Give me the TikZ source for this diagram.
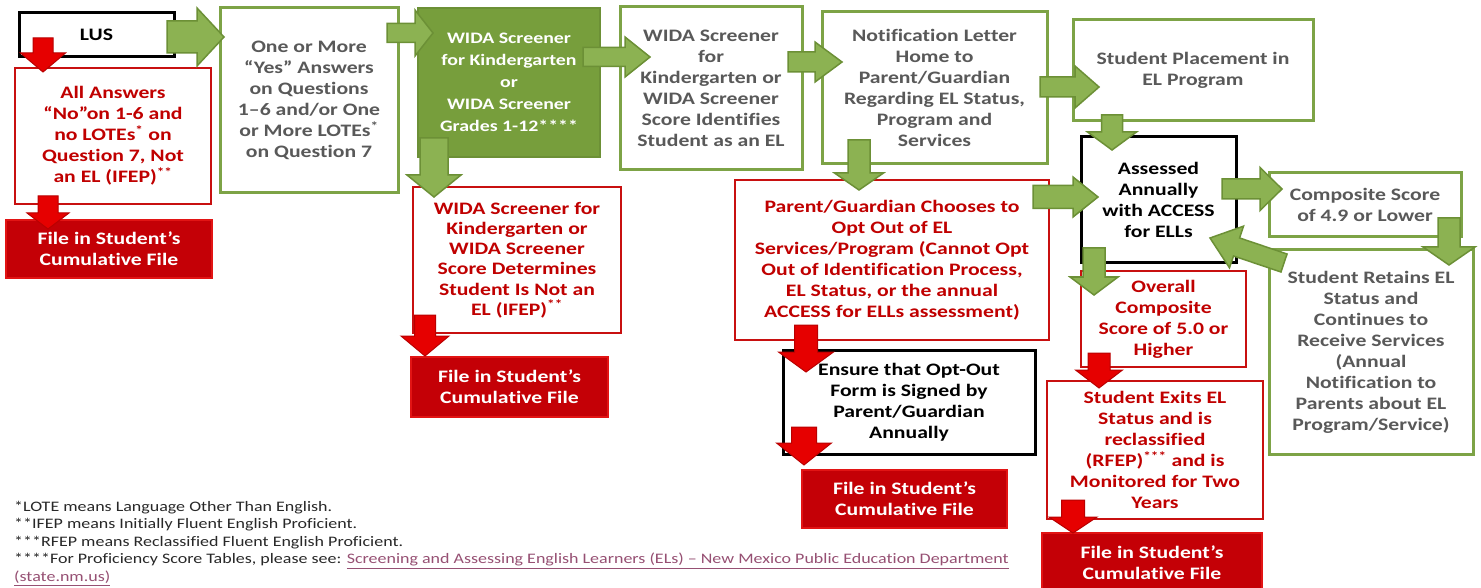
\documentclass[tikz,border=0pt]{standalone}
\usepackage{fontspec}
\setmainfont{Carlito}[FakeStretch=1.24,Ligatures=CommonOff]
\usetikzlibrary{calc}
\definecolor{gtext}{RGB}{89,89,89}
\definecolor{rtext}{RGB}{192,0,0}
\definecolor{gbord}{RGB}{125,163,70}
\definecolor{gfill}{RGB}{119,158,60}
\definecolor{garrow}{RGB}{140,178,82}
\definecolor{gdark}{RGB}{108,144,54}
\definecolor{rbord}{RGB}{200,16,16}
\definecolor{filred}{RGB}{196,0,6}
\definecolor{filedge}{RGB}{226,20,20}
\definecolor{rarrow}{RGB}{230,0,0}
\definecolor{rdark}{RGB}{185,0,0}
\definecolor{fnote}{RGB}{40,40,40}
\definecolor{linkc}{RGB}{150,80,115}
\newcommand{\blockarrow}[6]{%
  \coordinate (ba-A) at #2;
  \coordinate (ba-B) at #3;
  \coordinate (ba-H) at ($(ba-B)!#6!(ba-A)$);
  \draw[#1] ($(ba-A)!#4!90:(ba-B)$) -- ($(ba-H)!#4!90:(ba-B)$) -- ($(ba-H)!#5!90:(ba-B)$) -- (ba-B) -- ($(ba-H)!#5!-90:(ba-B)$) -- ($(ba-H)!#4!-90:(ba-B)$) -- ($(ba-A)!#4!-90:(ba-B)$) -- cycle;
}
\tikzset{
  box/.style={draw, anchor=north west, inner sep=0pt, outer sep=0pt, align=center,
    font=\bfseries\fontsize{17.5}{21}\selectfont},
  gbox/.style={box, draw=gbord, line width=3pt, text=gtext},
  rbox/.style={box, draw=rbord, line width=2.5pt, text=rtext},
  kbox/.style={box, draw=black, line width=3pt, text=black},
  filebox/.style={box, fill=filred, draw=filedge, line width=1.5pt, text=white},
  garr/.style={fill=garrow, draw=gdark, line width=1.5pt, line join=miter},
  rarr/.style={fill=rarrow, draw=rdark, line width=1pt, line join=miter},
}
\begin{document}
\begin{tikzpicture}[x=1pt,y=-1pt]
\useasboundingbox (0,0) rectangle (1481,588);
\fill[white] (0,0) rectangle (1481,588);

% boxes
\node[kbox, minimum width=155pt, minimum height=44pt] (lus) at (19,13) {LUS};
\node[rbox, minimum width=196pt, minimum height=136pt] (all) at (15,68)
  {All Answers\\“No”on 1-6 and\\no LOTEs\textsuperscript{*} on\\Question 7, Not\\an EL (IFEP)\textsuperscript{**}};
\node[filebox, minimum width=206pt, minimum height=58pt] (file1) at (6,220)
  {File in Student’s\\Cumulative File};
\node[gbox, minimum width=178pt, minimum height=185pt] (one) at (220,8)
  {One or More\\“Yes” Answers\\on Questions\\1–6 and/or One\\or More LOTEs\textsuperscript{*}\\on Question 7};
\node[box, fill=gfill, draw=gdark, line width=2pt, text=white, minimum width=182pt, minimum height=149pt,
  font=\bfseries\fontsize{16}{22}\selectfont] (wg) at (418,8)
  {WIDA Screener\\for Kindergarten\\or\\WIDA Screener\\Grades 1-12****};
\node[rbox, minimum width=208pt, minimum height=146pt, font=\bfseries\fontsize{17.5}{20.2}\selectfont] (wr) at (413,187)
  {WIDA Screener for\\Kindergarten or\\WIDA Screener\\Score Determines\\Student Is Not an\\EL (IFEP)\textsuperscript{**}};
\node[filebox, minimum width=197pt, minimum height=60pt] (file2) at (411,357)
  {File in Student’s\\Cumulative File};
\node[gbox, minimum width=182pt, minimum height=163pt] (wid) at (620,7)
  {WIDA Screener\\for\\Kindergarten or\\WIDA Screener\\Score Identifies\\Student as an EL};
\node[gbox, minimum width=225pt, minimum height=152pt] (notif) at (822,12)
  {Notification Letter\\Home to\\Parent/Guardian\\Regarding EL Status,\\Program and\\Services};
\node[gbox, minimum width=240pt, minimum height=101pt] (place) at (1073,20)
  {Student Placement in\\EL Program};
\node[rbox, minimum width=314pt, minimum height=160pt] (parent) at (735,180)
  {Parent/Guardian Chooses to\\Opt Out of EL\\Services/Program (Cannot Opt\\Out of Identification Process,\\EL Status, or the annual\\ACCESS for ELLs assessment)};
\node[kbox, minimum width=252pt, minimum height=104pt] (ensure) at (783,350)
  {Ensure that Opt-Out\\Form is Signed by\\Parent/Guardian\\Annually};
\node[filebox, minimum width=205pt, minimum height=58pt] (file3) at (802,470)
  {File in Student’s\\Cumulative File};
\node[kbox, minimum width=155pt, minimum height=126pt] (assess) at (1081,137)
  {Assessed\\Annually\\with ACCESS\\for ELLs};
\node[gbox, minimum width=192pt, minimum height=64pt] (comp) at (1269,173)
  {Composite Score\\of 4.9 or Lower};
\node[gbox, minimum width=204pt, minimum height=204pt] (retain) at (1269,250)
  {Student Retains EL\\Status and\\Continues to\\Receive Services\\(Annual\\Notification to\\Parents about EL\\Program/Service)};
\node[rbox, minimum width=165pt, minimum height=96pt] (overall) at (1081,271)
  {Overall\\Composite\\Score of 5.0 or\\Higher};
\node[rbox, minimum width=216pt, minimum height=138pt] (exits) at (1047,381)
  {Student Exits EL\\Status and is\\reclassified\\(RFEP)\textsuperscript{***} and is\\Monitored for Two\\Years};
\node[filebox, minimum width=220pt, minimum height=59pt] (file4) at (1042,533)
  {File in Student’s\\Cumulative File};

% footnotes
\node[anchor=north west, align=left, inner sep=0pt, text=fnote,
  font=\fontsize{14.5}{17.5}\selectfont] (notes) at (14,501)
  {*LOTE means Language Other Than English.\\
   **IFEP means Initially Fluent English Proficient.\\
   ***RFEP means Reclassified Fluent English Proficient.\\
   ****For Proficiency Score Tables, please see: \textcolor{linkc}{\underline{Screening and Assessing English Learners (ELs) – New Mexico Public Education Department}}\\
   \textcolor{linkc}{\underline{(state.nm.us)}}};

% block arrows (connectors)
\blockarrow{garr}{($(lus.east)+(-7,2)$)}{($(lus.east -| one.west)+(4,2)$)}{16pt}{29pt}{27pt}
\blockarrow{rarr}{($(lus.south west)+(24,-19)$)}{($(lus.south west |- all.north)+(24,4)$)}{10pt}{22.5pt}{19pt}
\blockarrow{rarr}{($(all.south west)+(33,-8)$)}{($(all.south west |- file1.north)+(33,9)$)}{10pt}{21pt}{16pt}
\blockarrow{garr}{($(one.north east)+(-11,25)$)}{($(wg.north west)+(15,25)$)}{9.5pt}{23pt}{18pt}
\blockarrow{garr}{($(wg.north east)+(-17,49)$)}{($(wid.north west)+(30,50)$)}{9.5pt}{20pt}{25pt}
\blockarrow{garr}{($(wg.south west)+(16,-19)$)}{($(wr.north west)+(21,10)$)}{14pt}{27pt}{22pt}
\blockarrow{garr}{($(wid.north east)+(-14,55)$)}{($(notif.north west)+(20,50)$)}{10pt}{20pt}{27pt}
\blockarrow{garr}{($(notif.north east)+(-7,75)$)}{($(place.north west)+(26,67)$)}{10pt}{21pt}{24pt}
\blockarrow{garr}{($(notif.south west)+(37,-24)$)}{($(parent.north west)+(124,10)$)}{11pt}{24.5pt}{17pt}
\blockarrow{garr}{($(place.south west)+(39,-6)$)}{($(assess.north west)+(31,13)$)}{10.5pt}{24.5pt}{18pt}
\blockarrow{garr}{($(parent.north east)+(-16,17)$)}{($(assess.north west)+(17,60)$)}{11.5pt}{20pt}{25pt}
\blockarrow{garr}{($(assess.north east)+(-14,52)$)}{($(comp.north west)+(13,16)$)}{10pt}{21.5pt}{22pt}
\blockarrow{garr}{($(comp.south east)+(-12,-19)$)}{($(retain.north east)+(-24,15)$)}{11pt}{26pt}{18pt}
\blockarrow{garr}{($(retain.north west)+(15,13)$)}{($(assess.south east)+(-26,-25)$)}{9.5pt}{22pt}{28pt}
\blockarrow{garr}{($(assess.south west)+(13,-15)$)}{($(overall.north west)+(13,24)$)}{11pt}{24pt}{18pt}
\blockarrow{rarr}{($(overall.south west)+(18,-14)$)}{($(exits.north west)+(52,7)$)}{11pt}{23.5pt}{18pt}
\blockarrow{rarr}{($(exits.south west)+(26,-19)$)}{($(file4.north west)+(31,0)$)}{11.5pt}{24pt}{16pt}
\blockarrow{rarr}{($(parent.south west)+(71,-15)$)}{($(ensure.north west)+(23,22)$)}{11.5pt}{27.5pt}{20pt}
\blockarrow{rarr}{($(ensure.south west)+(21,-27)$)}{($(file3.north west)+(2,-5)$)}{12.5pt}{27.5pt}{22pt}
\blockarrow{rarr}{($(wr.south west)+(12,-18)$)}{($(file2.north west)+(14,-1)$)}{10.5pt}{24pt}{20pt}
\end{tikzpicture}
\end{document}
